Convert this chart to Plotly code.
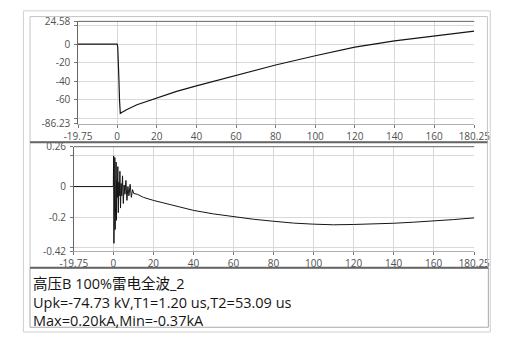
import plotly.graph_objects as go

# Voltage channel (kV) vs time (us)
volt_t = [-19.75, 0.0, 0.3, 0.6, 0.9, 1.2, 1.6, 2.5, 5, 10, 20, 30, 40, 53.09,
          60, 80, 100, 120, 140, 160, 180.25]
volt_kv = [0.0, 0.0, -3.0, -15.0, -38.0, -60.0, -74.73, -73.5, -70.5, -65.5, -58.0,
           -51.0, -45.0, -37.4, -33.5, -22.5, -12.5, -3.3, 3.6, 8.8, 14.0]

# Current channel (kA) vs time (us): ringing burst after the front, then slow tail
curr_t = [-19.75, 0.0, 0.15, 0.30, 0.45, 0.60, 0.75, 0.90, 1.05, 1.20, 1.40, 1.60,
          1.80, 2.00, 2.25, 2.50, 2.75, 3.00, 3.30, 3.60, 3.90, 4.20, 4.60, 5.00,
          5.40, 5.80, 6.30, 6.80, 7.30, 7.80, 8.40, 9.00, 9.60, 10.2, 12, 15, 20,
          30, 40, 50, 60, 70, 80, 90, 100, 110, 120, 130, 140, 150, 160, 170, 180.25]
curr_ka = [0.0, 0.0, 0.20, -0.37, 0.08, -0.10, 0.19, -0.28, 0.05, -0.08, 0.16, -0.22,
           0.04, -0.07, 0.13, -0.17, 0.03, -0.06, 0.10, -0.14, 0.02, -0.06, 0.07, -0.11,
           0.01, -0.05, 0.04, -0.09, 0.0, -0.06, 0.015, -0.07, -0.02, -0.045, -0.05,
           -0.07, -0.09, -0.125, -0.155, -0.178, -0.197, -0.213, -0.226, -0.238,
           -0.245, -0.249, -0.247, -0.244, -0.239, -0.232, -0.225, -0.215, -0.204]

x_ticks = [-19.75, 0, 20, 40, 60, 80, 100, 120, 140, 160, 180.25]
x_text = ["-19.75", "0", "20", "40", "60", "80", "100", "120", "140", "160", "180.25"]
v_ticks = [-86.23, -80, -60, -40, -20, 0, 20, 24.58]
v_text = ["-86.23", "", "-60", "-40", "-20", "0", "", "24.58"]
i_ticks = [-0.42, -0.4, -0.2, 0, 0.2, 0.26]
i_text = ["-0.42", "", "-0.2", "0", "", "0.26"]

title_line = "高压B 100%雷电全波_2"
param_line = "Upk=-74.73 kV,T1=1.20 us,T2=53.09 us"
range_line = "Max=0.20kA,Min=-0.37kA"

W, H = 510, 340
FONT = "Open Sans, Noto Sans CJK SC, sans-serif"


def px(x):
    return x / W


def py(y):
    return 1 - y / H


fig = go.Figure()
fig.add_trace(go.Scatter(x=volt_t, y=volt_kv, mode="lines", xaxis="x", yaxis="y",
                         line=dict(color="#151515", width=1.2)))
fig.add_trace(go.Scatter(x=curr_t, y=curr_ka, mode="lines", xaxis="x2", yaxis="y2",
                         line=dict(color="#151515", width=1.0)))

axis_common = dict(showgrid=True, gridcolor="#d9d9d9", gridwidth=1, zeroline=False,
                   ticks="outside", ticklen=3, tickcolor="#777777", tickmode="array",
                   tickfont=dict(family=FONT, size=10, color="#505050"))

# small gap between the value labels and the tick marks
gap = "\u2009"

fig.update_layout(
    width=W, height=H, autosize=False,
    margin=dict(l=0, r=0, t=0, b=0),
    paper_bgcolor="white", plot_bgcolor="white",
    showlegend=False,
    xaxis=dict(domain=[px(68), px(489)], range=[-19.75, 180.25], anchor="y",
               tickvals=x_ticks, ticktext=x_text, showline=True, linecolor="#b0b0b0",
               **axis_common),
    yaxis=dict(domain=[py(122), py(15)], range=[-86.23, 24.58], anchor="x",
               tickvals=v_ticks, ticktext=[t + gap if t else t for t in v_text],
               showline=True, linecolor="#666666", **axis_common),
    xaxis2=dict(domain=[px(63.5), px(489)], range=[-19.75, 180.25], anchor="y2",
                tickvals=x_ticks, ticktext=x_text, showline=True, linecolor="#b0b0b0",
                **axis_common),
    yaxis2=dict(domain=[py(254.5), py(145.7)], range=[-0.42, 0.26], anchor="x2",
                tickvals=i_ticks, ticktext=[t + gap if t else t for t in i_text],
                showline=True, linecolor="#666666", **axis_common),
)


def rect(x0, y0, x1, y1, color, width=1):
    fig.add_shape(type="rect", xref="paper", yref="paper",
                  x0=px(x0), x1=px(x1), y0=py(y1), y1=py(y0),
                  line=dict(color=color, width=width), fillcolor="rgba(0,0,0,0)")


def hline(x0, x1, y, color, width=1):
    fig.add_shape(type="line", xref="paper", yref="paper",
                  x0=px(x0), x1=px(x1), y0=py(y), y1=py(y),
                  line=dict(color=color, width=width))


# outer frame and panel frames
rect(10, 4, 506, 339, "#cfcfcf")
rect(17, 10, 503, 141, "#c4c4c4")
rect(17, 141, 503, 272, "#c4c4c4")
rect(17, 272, 504, 334, "#a8a8a8")
hline(17, 503, 141, "#666666", 2)
hline(17, 504, 272, "#666666", 2)
# dark top edges of the plot areas
hline(68, 489, 15, "#666666", 1)
hline(63.5, 489, 145.7, "#666666", 1)

for text, y in [(title_line, 288), (param_line, 308.5), (range_line, 327)]:
    fig.add_annotation(x=px(18), y=py(y), xref="paper", yref="paper",
                       text=text, showarrow=False, xanchor="left", yanchor="middle",
                       font=dict(family=FONT, size=14.5, color="#161616"))

fig.write_html("out.html")
